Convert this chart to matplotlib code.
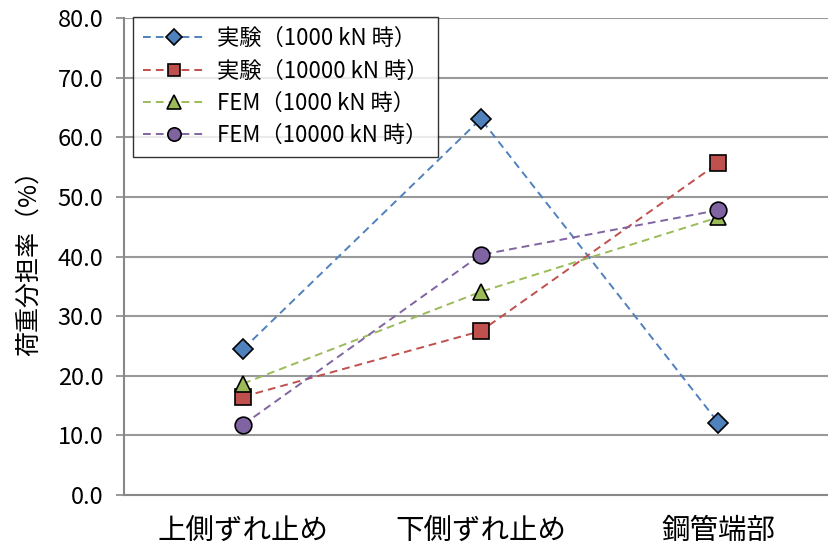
import matplotlib
matplotlib.use("Agg")
import matplotlib.pyplot as plt

plt.rcParams['font.family'] = ['Noto Sans CJK JP', 'DejaVu Sans']

categories = ["上側ずれ止め", "下側ずれ止め", "鋼管端部"]
exp_1000 = [24.5, 63.1, 12.1]
exp_10000 = [16.5, 27.5, 55.7]
fem_1000 = [18.7, 34.1, 46.6]
fem_10000 = [11.8, 40.3, 47.8]
series_labels = ["実験（1000 kN 時）", "実験（10000 kN 時）",
                 "FEM（1000 kN 時）", "FEM（10000 kN 時）"]
y_ticks = [0, 10, 20, 30, 40, 50, 60, 70, 80]

fig = plt.figure(figsize=(8.29, 5.52), dpi=100)
ax = fig.add_axes([0.150, 0.1033, 0.860, 0.8637])

x = list(range(len(categories)))
styles = [
    (exp_1000, "#4F81BD", "D", 10),
    (exp_10000, "#C0504D", "s", 11.5),
    (fem_1000, "#9BBB59", "^", 12),
    (fem_10000, "#8064A2", "o", 12),
]
for (vals, col, mk, ms), lab in zip(styles, series_labels):
    ax.plot(x, vals, linestyle=(0, (4, 2.6)), color=col, linewidth=1.4,
            marker=mk, markersize=ms, markerfacecolor=col,
            markeredgecolor="black", markeredgewidth=1.2, label=lab)

ax.set_xlim(-0.5, 2.5)
ax.set_ylim(0, 80)
ax.set_yticks(y_ticks)
ax.set_yticklabels([f"{v:.1f}" for v in y_ticks], fontsize=17)
ax.set_xticks(x)
ax.set_xticklabels(categories, fontsize=20.5)
ax.tick_params(axis="x", length=0, pad=15)
ax.tick_params(axis="y", length=6, color="#888888", width=1.2, pad=9)

ax.yaxis.grid(True, color="#999999", linewidth=1.5)
ax.set_axisbelow(True)
for s in ["top", "right"]:
    ax.spines[s].set_visible(False)
ax.spines["left"].set_color("#888888")
ax.spines["left"].set_linewidth(1.5)
ax.spines["bottom"].set_color("#888888")
ax.spines["bottom"].set_linewidth(1.5)

ax.set_ylabel("荷重分担率（%）", fontsize=18, labelpad=11)

leg = ax.legend(loc="upper left", bbox_to_anchor=(0.0126, 1.002), fontsize=16,
                frameon=True, fancybox=False, edgecolor="black",
                borderpad=0.45, labelspacing=0.42, handlelength=2.8,
                handletextpad=0.5, borderaxespad=0.0, markerscale=0.8)
leg.get_frame().set_linewidth(1.0)

fig.savefig("out.png", dpi=100)
